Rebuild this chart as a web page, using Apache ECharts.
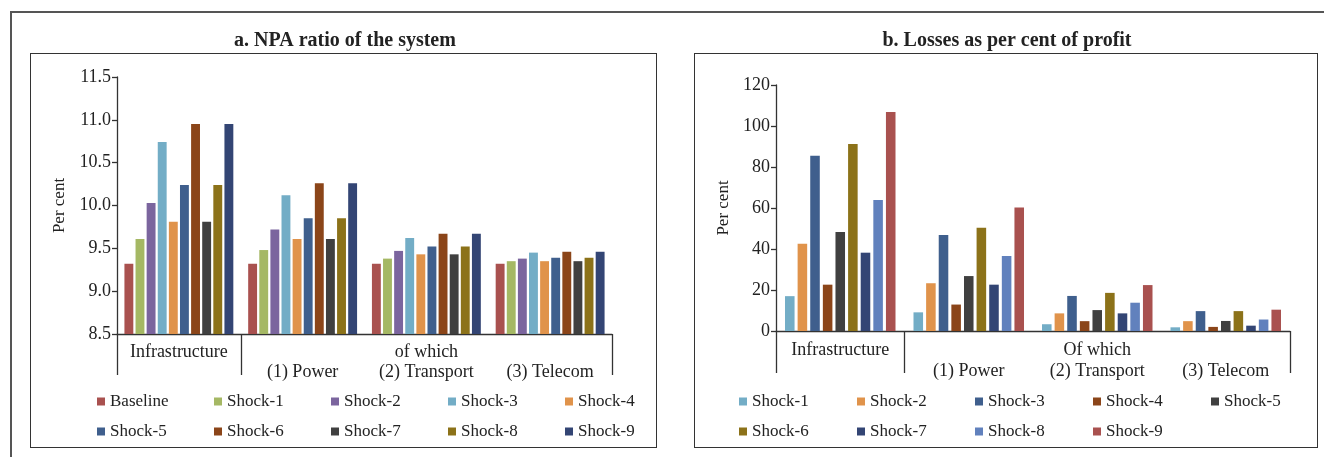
<!DOCTYPE html>
<html>
<head>
<meta charset="utf-8">
<script src="https://cdn.jsdelivr.net/npm/echarts@6/dist/echarts.min.js"></script>
<style>
  html, body { margin: 0; padding: 0; background: #fff; }
  body { width: 1324px; height: 457px; position: relative; overflow: hidden; }
  .frame { position: absolute; left: 10px; top: 11px; width: 1330px; height: 460px;
           border-top: 2px solid #555; border-left: 2px solid #555; }
  .box { position: absolute; border: 1.5px solid #333; }
  .chart { position: absolute; }
</style>
</head>
<body>
<div class="frame"></div>
<div class="box" style="left:30px; top:53px; width:625px; height:393px;"></div>
<div class="box" style="left:694px; top:53px; width:622px; height:393px;"></div>
<div id="npaChart" class="chart" style="left:30px; top:20px; width:630px; height:430px;"></div>
<div id="lossChart" class="chart" style="left:694px; top:20px; width:626px; height:430px;"></div>

<script>
// categories
const npaCats = ['Infrastructure', '\n(1) Power', 'of which\n(2) Transport', '\n(3) Telecom']
const lossCats = ['Infrastructure', '\n(1) Power', 'Of which\n(2) Transport', '\n(3) Telecom']

// a. NPA ratio of the system (per cent)
const npaBaseline = [9.32, 9.32, 9.32, 9.32]
const npaShock1 = [9.61, 9.48, 9.38, 9.35]
const npaShock2 = [10.03, 9.72, 9.47, 9.38]
const npaShock3 = [10.74, 10.12, 9.62, 9.45]
const npaShock4 = [9.81, 9.61, 9.43, 9.35]
const npaShock5 = [10.24, 9.85, 9.52, 9.39]
const npaShock6 = [10.95, 10.26, 9.67, 9.46]
const npaShock7 = [9.81, 9.61, 9.43, 9.35]
const npaShock8 = [10.24, 9.85, 9.52, 9.39]
const npaShock9 = [10.95, 10.26, 9.67, 9.46]

// b. Losses as per cent of profit
const lossShock1 = [17.0, 9.1, 3.3, 1.8]
const lossShock2 = [42.6, 23.3, 8.6, 4.8]
const lossShock3 = [85.5, 46.8, 17.1, 9.7]
const lossShock4 = [22.6, 12.9, 4.8, 2.0]
const lossShock5 = [48.3, 26.8, 10.2, 4.9]
const lossShock6 = [91.2, 50.4, 18.6, 9.7]
const lossShock7 = [38.2, 22.6, 8.6, 2.6]
const lossShock8 = [63.9, 36.6, 13.8, 5.6]
const lossShock9 = [106.8, 60.3, 22.4, 10.4]

const npaNames = ['Baseline', 'Shock-1', 'Shock-2', 'Shock-3', 'Shock-4', 'Shock-5', 'Shock-6', 'Shock-7', 'Shock-8', 'Shock-9']
const lossNames = ['Shock-1', 'Shock-2', 'Shock-3', 'Shock-4', 'Shock-5', 'Shock-6', 'Shock-7', 'Shock-8', 'Shock-9']

const npaAxis = { min: 8.5, max: 11.5, interval: 0.5 }
const lossAxis = { min: 0, max: 120, interval: 20 }

const npaColors = ['#a9514f', '#a5b864', '#7b659e', '#73adc6', '#e0934b', '#3f5f8d', '#8b4519', '#404040', '#8c7219', '#334574']
const lossColors = ['#73adc6', '#e0934b', '#3f5f8d', '#8b4519', '#404040', '#8c7219', '#334574', '#6181bd', '#a9514f']

const FONT = '"Liberation Serif", "DejaVu Serif", serif'
const INK = '#222'
const LINE = '#333'

const npaValues = [npaBaseline, npaShock1, npaShock2, npaShock3, npaShock4, npaShock5, npaShock6, npaShock7, npaShock8, npaShock9]
const lossValues = [lossShock1, lossShock2, lossShock3, lossShock4, lossShock5, lossShock6, lossShock7, lossShock8, lossShock9]

const buildOption = (cfg) => ({
  animation: false,
  title: {
    text: cfg.title,
    left: 'center',
    top: 6,
    textStyle: { fontFamily: FONT, fontSize: 20, fontWeight: 'bold', color: INK },
  },
  legend: cfg.rows.map((row, i) => ({
    data: row,
    left: cfg.legendLeft,
    top: cfg.legendTop + i * 30,
    width: 620,
    padding: 0,
    itemGap: 0,
    itemWidth: 8,
    itemHeight: 8,
    icon: 'rect',
    selectedMode: false,
    textStyle: { fontFamily: FONT, fontSize: 17, color: INK, width: cfg.legendTextWidth, lineHeight: 17 },
  })),
  grid: { left: cfg.grid.left, top: cfg.grid.top, width: cfg.grid.width, height: cfg.grid.height },
  xAxis: [
    {
      type: 'category',
      data: cfg.cats,
      axisLine: { lineStyle: { color: LINE, width: 1.3 } },
      axisTick: { length: 5, lineStyle: { color: LINE, width: 1.3 } },
      axisLabel: {
        interval: 0,
        margin: cfg.labelMargin,
        lineHeight: cfg.labelLineHeight,
        fontFamily: FONT,
        fontSize: 18,
        color: INK,
      },
    },
    {
      type: 'value',
      min: 0,
      max: 4,
      position: 'bottom',
      axisLine: { show: false },
      axisLabel: { show: false },
      splitLine: { show: false },
      axisTick: { show: true, customValues: [0, 1, 4], length: cfg.longTick, lineStyle: { color: LINE, width: 1.3 } },
    },
  ],
  yAxis: {
    type: 'value',
    min: cfg.axis.min,
    max: cfg.axis.max,
    interval: cfg.axis.interval,
    name: 'Per cent',
    nameLocation: 'middle',
    nameGap: cfg.nameGap,
    nameTextStyle: { fontFamily: FONT, fontSize: 17, color: INK },
    axisLine: { show: true, lineStyle: { color: LINE, width: 1.3 } },
    axisTick: { show: true, length: 5, lineStyle: { color: LINE, width: 1.3 } },
    axisLabel: {
      margin: 6,
      fontFamily: FONT,
      fontSize: 18,
      color: INK,
      formatter: cfg.fmt,
    },
    splitLine: { show: false },
  },
  series: cfg.names.map((name, i) => ({
    name,
    type: 'bar',
    data: cfg.values[i],
    barCategoryGap: cfg.catGap,
    barGap: cfg.barGap,
    itemStyle: { color: cfg.colors[i] },
  })),
})

const npaChart = echarts.init(document.getElementById('npaChart'))
npaChart.setOption(buildOption({
  title: 'a. NPA ratio of the system',
  cats: npaCats,
  names: npaNames,
  values: npaValues,
  colors: npaColors,
  axis: npaAxis,
  fmt: (v) => v.toFixed(1),
  grid: { left: 87, top: 57, width: 495, height: 257 },
  nameGap: 49,
  labelMargin: 8,
  labelLineHeight: 20,
  longTick: 41,
  catGap: '12%',
  barGap: '25%',
  rows: [npaNames.slice(0, 5), npaNames.slice(5)],
  legendLeft: 67,
  legendTop: 373,
  legendTextWidth: 104,
}))

const lossChart = echarts.init(document.getElementById('lossChart'))
lossChart.setOption(buildOption({
  title: 'b. Losses as per cent of profit',
  cats: lossCats,
  names: lossNames,
  values: lossValues,
  colors: lossColors,
  axis: lossAxis,
  fmt: (v) => String(v),
  grid: { left: 82, top: 65, width: 514, height: 246 },
  nameGap: 40,
  labelMargin: 9,
  labelLineHeight: 21,
  longTick: 42,
  catGap: '14%',
  barGap: '32%',
  rows: [lossNames.slice(0, 5), lossNames.slice(5)],
  legendLeft: 45,
  legendTop: 373,
  legendTextWidth: 105,
}))
</script>
</body>
</html>
